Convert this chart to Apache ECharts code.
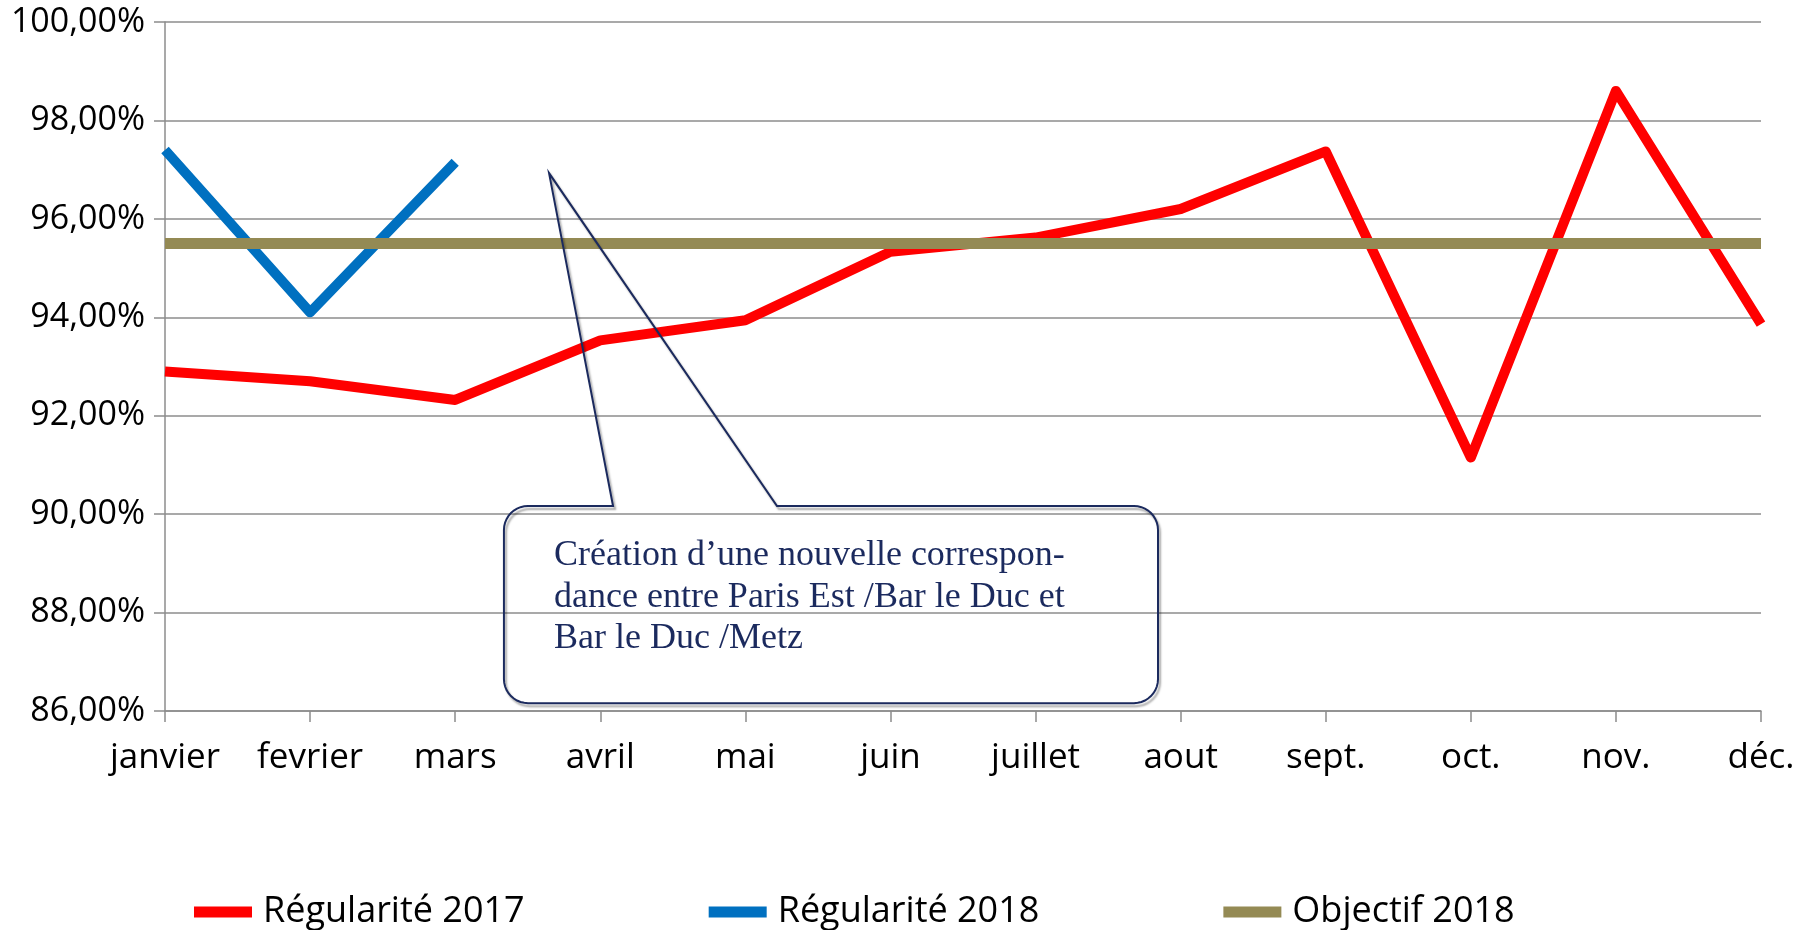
<!DOCTYPE html>
<html>
<head>
<meta charset="utf-8">
<script src="https://cdn.jsdelivr.net/npm/echarts@6/dist/echarts.min.js"></script>
<style>
html,body{margin:0;padding:0;background:#fff;}
#chart{width:1808px;height:930px;}
</style>
</head>
<body>
<div id="chart"></div>
<script>
// ---- data ----
const categories = ['janvier','fevrier','mars','avril','mai','juin','juillet','aout','sept.','oct.','nov.','déc.'];
const regularite2017 = [92.9, 92.7, 92.32, 93.53, 93.94, 95.33, 95.62, 96.2, 97.37, 91.15, 98.6, 93.86];
const regularite2018 = [97.4, 94.1, 97.15, null, null, null, null, null, null, null, null, null];
const objectif2018 = [95.5, 95.5, 95.5, 95.5, 95.5, 95.5, 95.5, 95.5, 95.5, 95.5, 95.5, 95.5];
const seriesNames = ['Régularité 2017', 'Régularité 2018', 'Objectif 2018'];
const yMin = 86, yMax = 100, yStep = 2;
const calloutLines = ['Création d\u2019une nouvelle correspon-', 'dance entre Paris Est /Bar le Duc et', 'Bar le Duc /Metz'];
// callout anchor in data space (category index, value)
const calloutTip = [2.647, 96.93];
const calloutBase = [3.088, 4.218];
const calloutBox = {x0: 2.336, x1: 6.844, yTop: 90.165, yBottom: 86.16};
const calloutText = [2.681, 89.58];

// ---- layout ----
const G = {left:165, top:22, right:47, bottom:219};
const W = 1808, H = 930;
const gw = W - G.left - G.right, gh = H - G.top - G.bottom;
const px = i => G.left + i * gw / (categories.length - 1);
const py = v => G.top + (yMax - v) / (yMax - yMin) * gh;

const chart = echarts.init(document.getElementById('chart'), null, {renderer:'canvas'});
const FONT = 'Open Sans';
const fmt = v => v.toFixed(2).replace('.', ',') + '%';

// callout outline points
const bx0 = px(calloutBox.x0), bx1 = px(calloutBox.x1), by0 = py(calloutBox.yTop), by1 = py(calloutBox.yBottom);
const r = 24;
const tx = px(calloutTip[0]), ty = py(calloutTip[1]);
const b1 = px(calloutBase[0]), b2 = px(calloutBase[1]);
function arc(cx, cy, a0, a1, out) {
  const n = 10;
  for (let k = 0; k <= n; k++) {
    const a = a0 + (a1 - a0) * k / n;
    out.push([cx + r * Math.cos(a), cy + r * Math.sin(a)]);
  }
}
const pts = [];
pts.push([b1, by0], [tx, ty], [b2, by0]);
arc(bx1 - r, by0 + r, -Math.PI/2, 0, pts);
arc(bx1 - r, by1 - r, 0, Math.PI/2, pts);
arc(bx0 + r, by1 - r, Math.PI/2, Math.PI, pts);
arc(bx0 + r, by0 + r, Math.PI, 1.5*Math.PI, pts);

const option = {
  backgroundColor: '#ffffff',
  animation: false,
  grid: {left:G.left, top:G.top, right:G.right, bottom:G.bottom, containLabel:false},
  legend: {
    left: 189, top: 886,
    icon: 'rect', itemWidth: 58, itemHeight: 11, itemGap: 184,
    data: seriesNames,
    textStyle: {fontFamily: FONT, fontSize: 36, color:'#000', width: 260, padding:[0,0,0,6], lineHeight: 42}
  },
  xAxis: {
    type: 'category', data: categories, boundaryGap: false,
    axisLine: {show:true, lineStyle:{color:'#8c8c8c', width:1.5}},
    axisTick: {show:true, length:11, lineStyle:{color:'#8c8c8c', width:1.5}},
    axisLabel: {fontFamily: FONT, fontSize: 35, color:'#000', margin: 30, interval:0},
    splitLine: {show:false}
  },
  yAxis: {
    type: 'value', min: yMin, max: yMax, interval: yStep,
    axisLine: {show:true, lineStyle:{color:'#8c8c8c', width:1.5}},
    axisTick: {show:true, length:11, lineStyle:{color:'#8c8c8c', width:1.5}},
    axisLabel: {fontFamily: FONT, fontSize: 34, color:'#000', margin: 20, formatter: fmt},
    splitLine: {show:true, lineStyle:{color:'#8c8c8c', width:1.5}}
  },
  series: [
    {name: seriesNames[0], type:'line', data: regularite2017, symbol:'none', color:'#ff0000',
     lineStyle:{color:'#ff0000', width:10, join:'round', cap:'butt'}},
    {name: seriesNames[1], type:'line', data: regularite2018, symbol:'none', color:'#0070c0',
     lineStyle:{color:'#0070c0', width:10, join:'round', cap:'butt'}},
    {name: seriesNames[2], type:'line', data: objectif2018, symbol:'none', color:'#948a54',
     lineStyle:{color:'#948a54', width:11, cap:'butt'}}
  ],
  graphic: [
    {type:'polygon', z: 100, shape:{points: pts},
     style:{fill:'none', stroke:'#1b2a5e', lineWidth:2, shadowColor:'rgba(0,0,0,0.35)', shadowBlur:2, shadowOffsetX:2, shadowOffsetY:3}},
    {type:'text', z: 101, x: px(calloutText[0]), y: py(calloutText[1]),
     style:{text: calloutLines.join('\n'), font: '36px "Liberation Serif"', fill:'#1b2a5e', lineHeight: 41.5, verticalAlign:'top', align:'left'}}
  ]
};
chart.setOption(option);
</script>
</body>
</html>
